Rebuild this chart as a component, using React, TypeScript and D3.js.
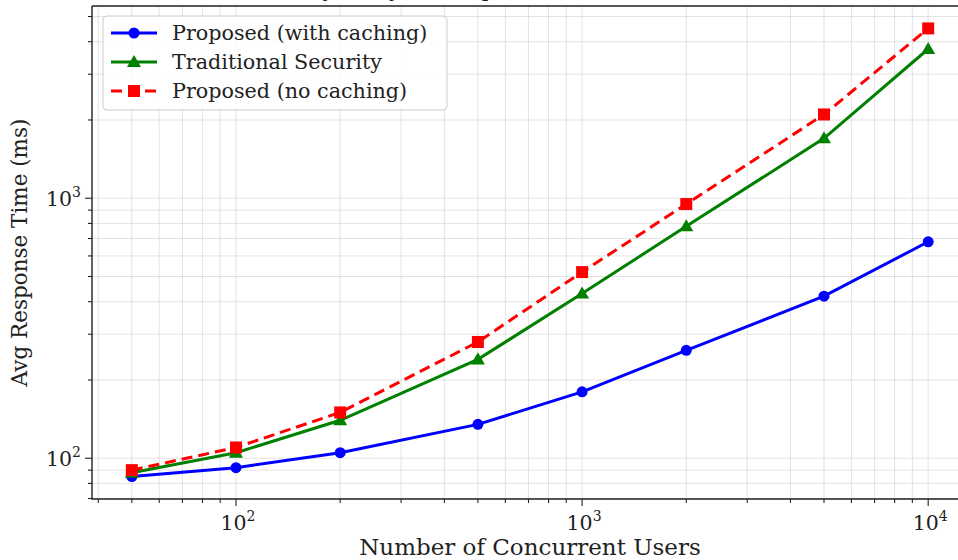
import React, { useEffect, useRef } from "react";
import * as d3 from "d3";

// data
const users = [50, 100, 200, 500, 1000, 2000, 5000, 10000];
const withCaching = [85, 92, 105, 135, 180, 260, 420, 680];
const traditional = [88, 105, 140, 240, 430, 780, 1700, 3750];
const noCaching = [90, 110, 150, 280, 520, 950, 2100, 4500];

const seriesNames = ["Proposed (with caching)", "Traditional Security", "Proposed (no caching)"];
const xTickExps = [2, 3, 4];
const yTickExps = [2, 3];

function App() {
  const ref = useRef<SVGSVGElement | null>(null);

  useEffect(() => {
    const width = 958;
    const height = 560;
    const svg = d3.select(ref.current);
    svg.selectAll("*").remove();

    const margin = { top: 6, right: -10, bottom: 61, left: 92 };
    const font = "DejaVu Serif, serif";

    // matplotlib-style 5% margins in log space
    const lx = users.map(Math.log10);
    const allY = [...withCaching, ...traditional, ...noCaching].map(Math.log10);
    const padX = (d3.max(lx)! - d3.min(lx)!) * 0.05;
    const padY = (d3.max(allY)! - d3.min(allY)!) * 0.05;

    const x = d3.scaleLog()
      .domain([10 ** (d3.min(lx)! - padX), 10 ** (d3.max(lx)! + padX)])
      .range([margin.left, width - margin.right]);
    const y = d3.scaleLog()
      .domain([10 ** (d3.min(allY)! - padY), 10 ** (d3.max(allY)! + padY)])
      .range([height - margin.bottom, margin.top]);

    const [x0, x1] = x.range();
    const [y0, y1] = y.range();

    // title, only its descenders show at the top edge
    svg.append("text")
      .attr("x", (x0 + x1) / 2)
      .attr("y", -3)
      .attr("text-anchor", "middle")
      .attr("font-family", font)
      .attr("font-size", 21)
      .attr("fill", "#222")
      .text("Scalability Analysis: Response Time vs. Concurrent Users");

    // minor + major ticks
    const xMajor = xTickExps.map(e => 10 ** e);
    const yMajor = yTickExps.map(e => 10 ** e);
    const xMinor: number[] = [];
    const yMinor: number[] = [];
    for (let e = 1; e <= 4; e++) {
      for (let m = 2; m <= 9; m++) {
        const v = m * 10 ** e;
        if (v >= x.domain()[0] && v <= x.domain()[1]) xMinor.push(v);
        if (v >= y.domain()[0] && v <= y.domain()[1]) yMinor.push(v);
      }
    }

    const grid = svg.append("g")
      .attr("stroke", "#b0b0b0")
      .attr("stroke-opacity", 0.35)
      .attr("stroke-width", 1);
    grid.selectAll("line.gx")
      .data([...xMinor, ...xMajor])
      .join("line")
      .attr("class", "gx")
      .attr("x1", d => x(d)).attr("x2", d => x(d))
      .attr("y1", y0).attr("y2", y1);
    grid.selectAll("line.gy")
      .data([...yMinor, ...yMajor])
      .join("line")
      .attr("class", "gy")
      .attr("y1", d => y(d)).attr("y2", d => y(d))
      .attr("x1", x0).attr("x2", x1);

    // lines
    const series = [
      { name: seriesNames[0], values: withCaching, color: "#0000ff", marker: "circle", dash: null },
      { name: seriesNames[1], values: traditional, color: "#008000", marker: "triangle", dash: null },
      { name: seriesNames[2], values: noCaching, color: "#ff0000", marker: "square", dash: "11,6" },
    ];

    const line = d3.line<[number, number]>()
      .x(d => x(d[0]))
      .y(d => y(d[1]));

    const drawMarker = (g: any, kind: string, cx: number, cy: number, color: string) => {
      if (kind === "circle") {
        g.append("circle").attr("cx", cx).attr("cy", cy).attr("r", 5.5).attr("fill", color);
      } else if (kind === "square") {
        g.append("rect").attr("x", cx - 6).attr("y", cy - 6)
          .attr("width", 12).attr("height", 12).attr("fill", color);
      } else {
        g.append("path")
          .attr("d", d3.symbol(d3.symbolTriangle, 85)())
          .attr("transform", `translate(${cx},${cy + 1})`)
          .attr("fill", color);
      }
    };

    const plot = svg.append("g");
    series.forEach(s => {
      const pts = users.map((u, i) => [u, s.values[i]] as [number, number]);
      plot.append("path")
        .datum(pts)
        .attr("fill", "none")
        .attr("stroke", s.color)
        .attr("stroke-width", 3)
        .attr("stroke-dasharray", s.dash)
        .attr("d", line);
      const mg = plot.append("g");
      pts.forEach(p => drawMarker(mg, s.marker, x(p[0]), y(p[1]), s.color));
    });

    // spines
    svg.append("path")
      .attr("d", `M${x0},${y1}H${x1}M${x0},${y1}V${y0}H${x1}`)
      .attr("fill", "none")
      .attr("stroke", "#222")
      .attr("stroke-width", 1.4);

    const ticks = svg.append("g").attr("stroke", "#222").attr("stroke-width", 1.1);
    ticks.selectAll("line.xmaj").data(xMajor).join("line").attr("class", "xmaj")
      .attr("x1", d => x(d)).attr("x2", d => x(d)).attr("y1", y0).attr("y2", y0 + 7);
    ticks.selectAll("line.xmin").data(xMinor).join("line").attr("class", "xmin")
      .attr("x1", d => x(d)).attr("x2", d => x(d)).attr("y1", y0).attr("y2", y0 + 4);
    ticks.selectAll("line.ymaj").data(yMajor).join("line").attr("class", "ymaj")
      .attr("y1", d => y(d)).attr("y2", d => y(d)).attr("x1", x0).attr("x2", x0 - 7);
    ticks.selectAll("line.ymin").data(yMinor).join("line").attr("class", "ymin")
      .attr("y1", d => y(d)).attr("y2", d => y(d)).attr("x1", x0).attr("x2", x0 - 4);

    // tick labels with superscripts
    const expLabel = (sel: any, e: number) => {
      sel.append("tspan").text("10");
      sel.append("tspan").attr("font-size", 14).attr("dy", -9).text(String(e));
    };
    xTickExps.forEach(e => {
      const t = svg.append("text")
        .attr("x", x(10 ** e) + 2)
        .attr("y", y0 + 31)
        .attr("text-anchor", "middle")
        .attr("font-family", font)
        .attr("font-size", 20.5)
        .attr("fill", "#222");
      expLabel(t, e);
    });
    yTickExps.forEach(e => {
      const t = svg.append("text")
        .attr("x", x0 - 11)
        .attr("y", y(10 ** e) + 8)
        .attr("text-anchor", "end")
        .attr("font-family", font)
        .attr("font-size", 20.5)
        .attr("fill", "#222");
      expLabel(t, e);
    });

    // axis labels
    svg.append("text")
      .attr("x", (x0 + x1) / 2)
      .attr("y", y0 + 56)
      .attr("text-anchor", "middle")
      .attr("font-family", font)
      .attr("font-size", 23)
      .attr("fill", "#222")
      .text("Number of Concurrent Users");
    svg.append("text")
      .attr("transform", `translate(27,${(y0 + y1) / 2}) rotate(-90)`)
      .attr("text-anchor", "middle")
      .attr("font-family", font)
      .attr("font-size", 21.5)
      .attr("fill", "#222")
      .text("Avg Response Time (ms)");

    // legend
    const lg = svg.append("g").attr("transform", `translate(${x0 + 11},16)`);
    lg.append("rect")
      .attr("width", 344).attr("height", 94).attr("rx", 4)
      .attr("fill", "white").attr("fill-opacity", 0.85)
      .attr("stroke", "#cccccc");
    series.forEach((s, i) => {
      const cy = 17 + i * 29;
      lg.append("line")
        .attr("x1", 8).attr("x2", 54).attr("y1", cy).attr("y2", cy)
        .attr("stroke", s.color).attr("stroke-width", 3)
        .attr("stroke-dasharray", s.dash);
      drawMarker(lg, s.marker, 31, cy, s.color);
      lg.append("text")
        .attr("x", 69).attr("y", cy + 7)
        .attr("font-family", font)
        .attr("font-size", 20.7)
        .attr("fill", "#222")
        .text(s.name);
    });
  }, []);

  return (
    <svg
      ref={ref}
      width={958}
      height={560}
      style={{ position: "absolute", left: 0, top: 0, background: "white" }}
    />
  );
}

export default App;
